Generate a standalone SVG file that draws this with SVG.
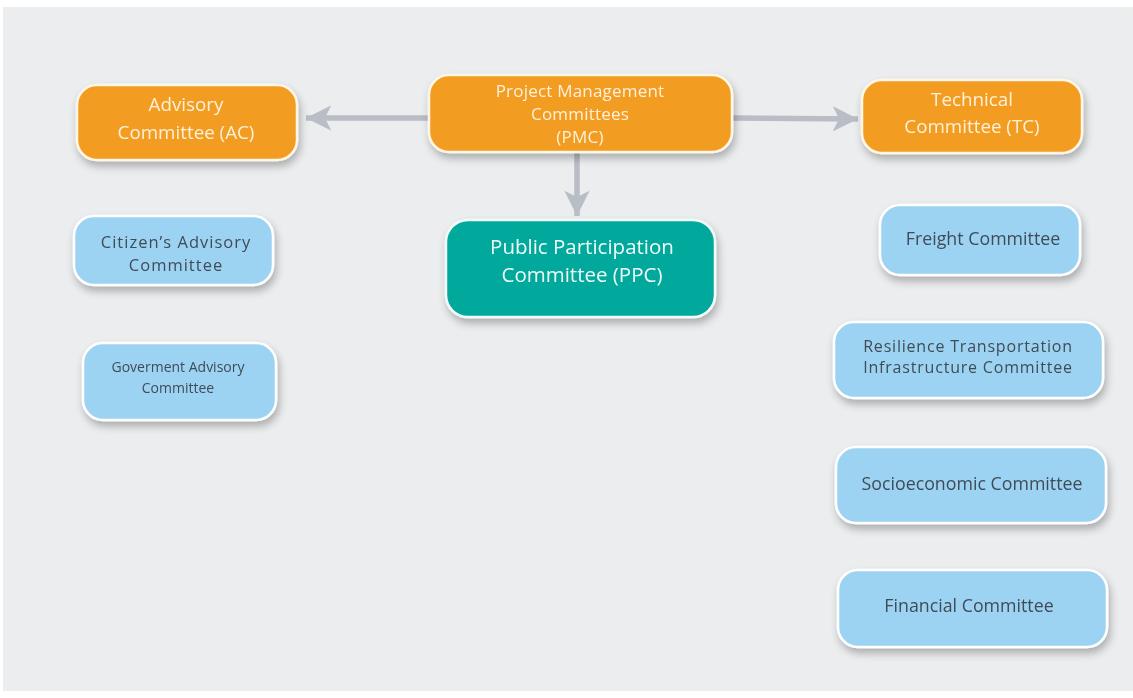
<svg xmlns="http://www.w3.org/2000/svg" width="1133" height="698" viewBox="0 0 1133 698">
<defs>
<filter id="sh" x="-20%" y="-30%" width="140%" height="170%">
<feGaussianBlur in="SourceAlpha" stdDeviation="4"/>
<feOffset dx="2" dy="5" result="b"/>
<feComponentTransfer><feFuncA type="linear" slope="0.28"/></feComponentTransfer>
<feMerge><feMergeNode/><feMergeNode in="SourceGraphic"/></feMerge>
</filter>
<marker id="ah" viewBox="0 0 10 10" refX="10" refY="5" markerWidth="4.6" markerHeight="4.6" markerUnits="strokeWidth" orient="auto">
<path d="M0,0 L10,5 L0,10 L2.5,5 Z" fill="#B9BDC5"/>
</marker>
<style>
.o{fill:#F39C24;stroke:#FFF6E6;stroke-width:2.5}
.t{fill:#00A99C;stroke:#F2FBFA;stroke-width:2.5}
.b{fill:#9DD3F2;stroke:#FFFFFF;stroke-width:2.5}
text{font-family:"Open Sans","Noto Sans","Liberation Sans",sans-serif;text-anchor:middle}
.ot{fill:#FFF1D8;font-size:18.8px}
.pt{fill:#FFF1D8;font-size:17px;letter-spacing:0.2px}
.tt{fill:#F1FAF9;font-size:20.5px}
.bt{fill:#3F4C57;font-size:17.8px}
.rt{fill:#3F4C57;font-size:16px;letter-spacing:0.8px}
.ct{fill:#3F4C57;font-size:16.5px;letter-spacing:1px}
.gt{fill:#3F4C57;font-size:14px}
.c{stroke:#B9BDC5;stroke-width:5.5;fill:none}
</style>
</defs>
<rect x="0" y="0" width="1133" height="698" fill="#FFFFFF"/>
<rect x="3" y="7" width="1130" height="684" fill="#ECEDEF"/>
<g id="connectors">
<line class="c" x1="428" y1="118" x2="306" y2="118" marker-end="url(#ah)"/>
<line class="c" x1="732" y1="118" x2="858" y2="119" marker-end="url(#ah)"/>
<line class="c" x1="577" y1="152" x2="577" y2="216" marker-end="url(#ah)"/>
</g>
<g id="ac" filter="url(#sh)">
<rect class="o" x="77" y="85" width="220" height="75" rx="20"/>
<text class="ot" x="186" y="111">Advisory</text>
<text class="ot" x="186" y="139">Committee (AC)</text>
</g>
<g id="pmc" filter="url(#sh)">
<rect class="o" x="429" y="75" width="303" height="77" rx="20"/>
<text class="pt" x="580" y="97">Project  Management</text>
<text class="pt" x="580" y="120">Committees</text>
<text class="pt" x="580" y="143">(PMC)</text>
</g>
<g id="tc" filter="url(#sh)">
<rect class="o" x="862" y="80" width="220" height="73" rx="20"/>
<text class="ot" x="972" y="106">Technical</text>
<text class="ot" x="972" y="133">Committee (TC)</text>
</g>
<g id="ppc" filter="url(#sh)">
<rect class="t" x="446" y="220" width="269" height="97" rx="22"/>
<text class="tt" x="582" y="254">Public Participation</text>
<text class="tt" x="582" y="282">Committee (PPC)</text>
</g>
<g id="cac" filter="url(#sh)">
<rect class="b" x="74" y="216" width="199" height="69" rx="20"/>
<text class="ct" x="176" y="248">Citizen’s Advisory</text>
<text class="ct" x="176" y="271">Committee</text>
</g>
<g id="gac" filter="url(#sh)">
<rect class="b" x="83" y="343" width="193" height="77" rx="20"/>
<text class="gt" x="178" y="372">Goverment Advisory</text>
<text class="gt" x="178" y="393">Committee</text>
</g>
<g id="fc" filter="url(#sh)">
<rect class="b" x="880" y="205" width="200" height="70" rx="20"/>
<text class="bt" x="983" y="245">Freight Committee</text>
</g>
<g id="rtic" filter="url(#sh)">
<rect class="b" x="834" y="322" width="269" height="76" rx="20"/>
<text class="rt" x="968" y="352">Resilience Transportation</text>
<text class="rt" x="968" y="373">Infrastructure Committee</text>
</g>
<g id="sc" filter="url(#sh)">
<rect class="b" x="836" y="447" width="270" height="76" rx="20"/>
<text class="bt" x="972" y="490">Socioeconomic Committee</text>
</g>
<g id="finc" filter="url(#sh)">
<rect class="b" x="838" y="570" width="269" height="77" rx="20"/>
<text class="bt" x="969" y="612">Financial Committee</text>
</g>
</svg>
